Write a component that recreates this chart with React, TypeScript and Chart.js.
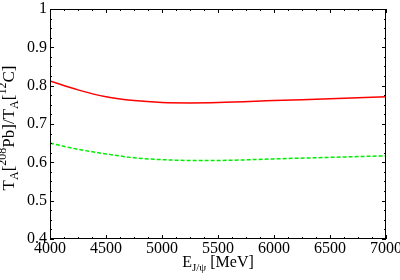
import React, { useEffect, useRef } from "react";
import { Chart, registerables } from "chart.js";

Chart.register(...registerables);

const energies = [4000, 4250, 4500, 4750, 5000, 5250, 5500, 6000, 6500, 7000];
const ratioRed = [0.812, 0.789, 0.771, 0.761, 0.756, 0.755, 0.756, 0.761, 0.766, 0.771];
const ratioGreen = [0.650, 0.634, 0.622, 0.612, 0.607, 0.605, 0.605, 0.609, 0.613, 0.617];
const xMajorStep = 500;
const xMinorStep = 125;
const yMajorStep = 0.1;
const yMinorStep = 0.025;

const FONT = "'Liberation Serif', 'Times New Roman', serif";

type Seg = { t: string; size: number; dy: number };

function drawSegs(ctx: CanvasRenderingContext2D, segs: Seg[], cx: number, cy: number, rot: number) {
  ctx.save();
  ctx.translate(cx, cy);
  ctx.rotate(rot);
  ctx.fillStyle = "#000";
  ctx.textBaseline = "alphabetic";
  ctx.textAlign = "left";
  let total = 0;
  for (const s of segs) {
    ctx.font = `${s.size}px ${FONT}`;
    total += ctx.measureText(s.t).width;
  }
  let x = -total / 2;
  for (const s of segs) {
    ctx.font = `${s.size}px ${FONT}`;
    ctx.fillText(s.t, x, s.dy);
    x += ctx.measureText(s.t).width;
  }
  ctx.restore();
}

const framePlugin = {
  id: "frame",
  afterDraw(chart: any) {
    const ctx: CanvasRenderingContext2D = chart.ctx;
    const { left, right, top, bottom } = chart.chartArea;
    const xs = chart.scales.x;
    const ys = chart.scales.y;
    ctx.save();
    ctx.strokeStyle = "#000";
    ctx.lineWidth = 1;
    ctx.strokeRect(left + 0.5, top + 0.5, right - left - 1, bottom - top - 1);
    ctx.beginPath();
    const eps = 1e-6;
    for (let v = xs.min; v <= xs.max + eps; v += xMinorStep) {
      const px = Math.round(xs.getPixelForValue(v)) + 0.5;
      const major = Math.abs(v / xMajorStep - Math.round(v / xMajorStep)) < 1e-6;
      const len = major ? 4 : 2;
      ctx.moveTo(px, bottom);
      ctx.lineTo(px, bottom - len);
      ctx.moveTo(px, top);
      ctx.lineTo(px, top + len);
    }
    for (let v = ys.min; v <= ys.max + eps; v += yMinorStep) {
      const py = Math.round(ys.getPixelForValue(v)) + 0.5;
      const r = v / yMajorStep;
      const major = Math.abs(r - Math.round(r)) < 1e-6;
      const len = major ? 4 : 2;
      ctx.moveTo(left, py);
      ctx.lineTo(left + len, py);
      ctx.moveTo(right, py);
      ctx.lineTo(right - len, py);
    }
    ctx.stroke();
    ctx.restore();

    const yTitle: Seg[] = [
      { t: "T", size: 17, dy: 0 },
      { t: "A", size: 12, dy: 4 },
      { t: "[", size: 17, dy: 0 },
      { t: "208", size: 12, dy: -8 },
      { t: "Pb]/T", size: 17, dy: 0 },
      { t: "A", size: 12, dy: 4 },
      { t: "[", size: 17, dy: 0 },
      { t: "12", size: 12, dy: -8 },
      { t: "C]", size: 17, dy: 0 },
    ];
    drawSegs(ctx, yTitle, 14, (top + bottom) / 2 + 4, -Math.PI / 2);

    const xTitle: Seg[] = [
      { t: "E", size: 16, dy: 0 },
      { t: "J/ψ", size: 11, dy: 4 },
      { t: " [MeV]", size: 16, dy: 0 },
    ];
    drawSegs(ctx, xTitle, (left + right) / 2, 267, 0);
  },
};

export default function App() {
  const ref = useRef<HTMLCanvasElement | null>(null);
  useEffect(() => {
    if (!ref.current) return;
    const chart = new Chart(ref.current, {
      type: "line",
      data: {
        datasets: [
          {
            data: energies.map((e, i) => ({ x: e, y: ratioRed[i] })),
            borderColor: "#ff0000",
            borderWidth: 1.5,
            pointRadius: 0,
            cubicInterpolationMode: "monotone",
            fill: false,
          },
          {
            data: energies.map((e, i) => ({ x: e, y: ratioGreen[i] })),
            borderColor: "#00ee00",
            borderWidth: 1.5,
            borderDash: [4, 2],
            pointRadius: 0,
            cubicInterpolationMode: "monotone",
            fill: false,
          },
        ],
      },
      options: {
        animation: false,
        responsive: false,
        layout: { padding: { top: 9, right: 14, left: 0, bottom: 0 } },
        plugins: { legend: { display: false }, tooltip: { enabled: false } },
        scales: {
          x: {
            type: "linear",
            min: 4000,
            max: 7000,
            grid: { display: false, drawTicks: false },
            border: { display: false },
            ticks: {
              stepSize: xMajorStep,
              color: "#000",
              font: { family: FONT, size: 16 },
              padding: 0,
              maxRotation: 0,
              autoSkip: false,
              callback: (v: any) => String(v),
            },
            afterFit: (s: any) => {
              s.height = 41;
              s.paddingLeft = 0;
              s.paddingRight = 0;
            },
          },
          y: {
            min: 0.4,
            max: 1,
            grid: { display: false, drawTicks: false },
            border: { display: false },
            ticks: {
              stepSize: yMajorStep,
              color: "#000",
              font: { family: FONT, size: 16 },
              padding: 3,
              autoSkip: false,
              callback: (v: any) => String(Number(Number(v).toFixed(2))),
            },
            afterFit: (s: any) => {
              s.width = 50;
              s.paddingTop = 0;
              s.paddingBottom = 0;
            },
          },
        },
      },
      plugins: [framePlugin],
    } as any);
    return () => chart.destroy();
  }, []);
  return (
    <div style={{ position: "fixed", left: 0, top: 0, width: 400, height: 280, background: "#fff" }}>
      <canvas ref={ref} width={400} height={280} />
    </div>
  );
}
